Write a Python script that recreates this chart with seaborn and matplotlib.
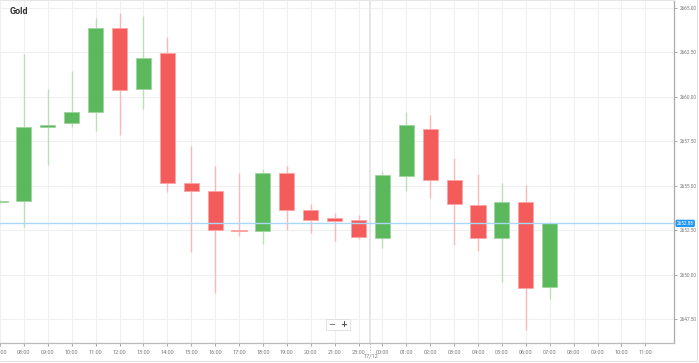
import matplotlib
matplotlib.use("Agg")
import matplotlib.pyplot as plt
import seaborn as sns
import numpy as np
import pandas as pd
from matplotlib.patches import Rectangle
from matplotlib.lines import Line2D

# ---- data ----
hours = ["07:00", "08:00", "09:00", "10:00", "11:00", "12:00", "13:00", "14:00",
         "15:00", "16:00", "17:00", "18:00", "19:00", "20:00", "21:00", "23:00",
         "00:00", "01:00", "02:00", "03:00", "04:00", "05:00", "06:00", "07:00"]
opens = [2654.08, 2654.12, 2658.29, 2658.51, 2659.15, 2663.86, 2660.42, 2662.45,
         2655.17, 2654.70, 2652.51, 2652.43, 2655.70, 2653.62, 2653.17, 2653.07,
         2652.07, 2655.53, 2658.19, 2655.30, 2653.90, 2652.07, 2654.10, 2649.28]
closes = [2654.12, 2658.32, 2658.43, 2659.16, 2663.86, 2660.39, 2662.20, 2655.17,
          2654.72, 2652.51, 2652.45, 2655.70, 2653.62, 2653.07, 2653.00, 2652.10,
          2655.60, 2658.40, 2655.30, 2653.95, 2652.07, 2654.10, 2649.26, 2652.88]
highs = [2654.20, 2662.39, 2660.42, 2661.45, 2664.45, 2664.70, 2664.57, 2663.35,
         2657.25, 2656.11, 2655.70, 2655.92, 2656.11, 2653.97, 2653.45, 2653.33,
         2655.83, 2659.16, 2658.96, 2656.54, 2655.66, 2655.15, 2655.02, 2652.97]
lows = [2654.00, 2652.69, 2656.18, 2658.32, 2658.10, 2657.84, 2659.30, 2654.66,
        2651.25, 2648.98, 2652.17, 2651.70, 2652.51, 2652.32, 2651.90, 2652.02,
        2651.49, 2654.70, 2654.32, 2651.68, 2651.34, 2649.56, 2646.88, 2648.62]
extra_hours = ["08:00", "09:00", "10:00", "11:00"]
y_ticks = [2647.50, 2650.00, 2652.50, 2655.00, 2657.50, 2660.00, 2662.50, 2665.00]
current_price = 2652.88
title = "Gold"
date_label = "17/12"

# ---- style ----
sns.set_theme(style="white")
plt.rcParams['font.family'] = ['Roboto', 'DejaVu Sans']

df = pd.DataFrame({"hour": hours, "open": opens, "close": closes,
                   "high": highs, "low": lows})
df["idx"] = np.arange(len(df))
df["up"] = df["close"] >= df["open"]

GREEN = "#5cb85c"
RED = "#f45b5b"
GREEN_W = "#b9e0b9"
RED_W = "#f9b9b9"

fig = plt.figure(figsize=(6.99, 3.63), dpi=100)
ax = fig.add_axes([0.0, 1 - 343 / 363, 674 / 699, 343 / 363])

# grid
all_labels = hours + extra_hours
xt = np.arange(len(all_labels))
for x in xt:
    ax.axvline(x, color="#f0f0f0", lw=0.8, zorder=0)
for y in y_ticks:
    ax.axhline(y, color="#f0f0f0", lw=0.8, zorder=0)

# wicks
for up, wc in [(True, GREEN_W), (False, RED_W)]:
    d = df[df["up"] == up]
    ax.vlines(d["idx"], d["low"], d["high"], color=wc, lw=1.0, zorder=2)

# bodies
width = 0.63
for up, bc, ec in [(True, GREEN, "#9ed49e"), (False, RED, "#fba5a5")]:
    d = df[df["up"] == up]
    bottom = np.minimum(d["open"], d["close"])
    h = np.maximum(np.abs(d["close"] - d["open"]), 0.06)
    ax.bar(d["idx"], h, bottom=bottom, width=width, color=bc, edgecolor=ec,
           linewidth=0.6, zorder=3)

# current price line
sns.lineplot(x=[-1, len(all_labels) + 2], y=[current_price, current_price],
             ax=ax, color="#a9d8f7", lw=1.0, zorder=4)

# day separator (solid inside, dashed tick below axis)
ax.axvline(15.5, color="#e2e2e2", lw=1.2, zorder=1)
ax.plot([15.5, 15.5], [0, -9 / 343], transform=ax.get_xaxis_transform(),
        color="#bbbbbb", lw=0.7, ls=(0, (1.5, 1.5)), clip_on=False)

ax.set_xlim(0.03, 28.2)
ax.set_ylim(2646.15, 2665.45)

ax.set_xticks(xt)
ax.set_xticklabels(all_labels)
ax.yaxis.tick_right()
ax.set_yticks(y_ticks)
ax.set_yticklabels([f"{v:.2f}" for v in y_ticks])
ax.tick_params(axis="x", labelsize=4.0, colors="#999999", length=2.5, width=0.6,
               pad=2.5, bottom=True, labelcolor="#777777")
ax.tick_params(axis="y", labelsize=3.4, colors="#999999", length=2.5, width=0.6,
               pad=1.5, right=True, labelcolor="#777777")

ax.spines["left"].set_visible(False)
ax.spines["top"].set_color("#e6e6e6")
ax.spines["top"].set_linewidth(0.8)
ax.spines["right"].set_color("#aaaaaa")
ax.spines["right"].set_linewidth(0.9)
ax.spines["bottom"].set_color("#bbbbbb")
ax.spines["bottom"].set_linewidth(0.9)

# title
ax.text(10 / 674, 1 - 12 / 343, title, transform=ax.transAxes, fontsize=6.5,
        fontweight="bold", color="#333333", va="center", ha="left")

# date label
ax.text(15.5, -13 / 343, date_label, transform=ax.get_xaxis_transform(),
        fontsize=4.0, color="#777777", ha="center", va="center")

# price label
ax.text(1.004, current_price, f"{current_price:.2f}",
        transform=ax.get_yaxis_transform(), fontsize=3.4, color="white",
        ha="left", va="center",
        bbox=dict(boxstyle="round,pad=0.25,rounding_size=0.3", fc="#2196f3",
                  ec="none"))

# zoom buttons
bx0, by0 = 326 / 674, (343 - 330) / 343
ax.add_patch(Rectangle((bx0, by0), 24 / 674, 11 / 343, transform=ax.transAxes,
                       fc="white", ec="#dddddd", lw=0.6, zorder=6))
ax.text(bx0 + 6 / 674, by0 + 5.5 / 343, "\u2212", transform=ax.transAxes,
        fontsize=6, color="#555555", ha="center", va="center", zorder=7,
        family="DejaVu Sans")
ax.text(bx0 + 18 / 674, by0 + 5.5 / 343, "+", transform=ax.transAxes,
        fontsize=6, color="#555555", ha="center", va="center", zorder=7,
        family="DejaVu Sans", fontweight="bold")

# outer widget border
fig.add_artist(Line2D([697 / 699, 697 / 699], [1, 1 - 360.5 / 363],
                      transform=fig.transFigure, color="#e3e3e3", lw=0.8))
fig.add_artist(Line2D([0, 697 / 699], [1 - 360.5 / 363, 1 - 360.5 / 363],
                      transform=fig.transFigure, color="#e3e3e3", lw=0.8))

fig.savefig("out.png", dpi=100)
